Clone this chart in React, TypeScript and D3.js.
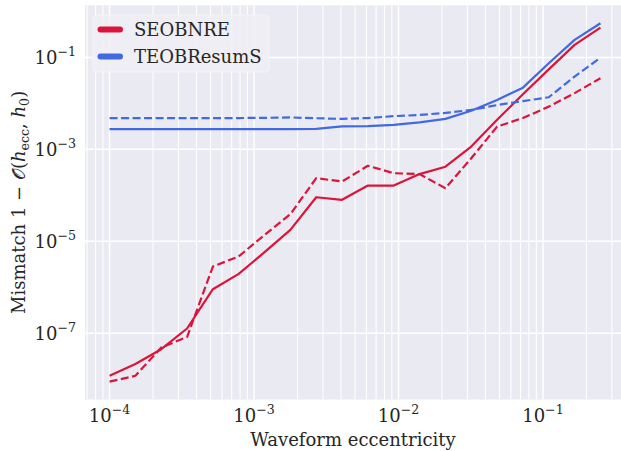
import React from 'react';
import * as d3 from 'd3';

const ecc = [1.0e-4, 1.509e-4, 2.278e-4, 3.439e-4, 5.191e-4, 7.835e-4, 1.183e-3, 1.785e-3, 2.695e-3, 4.068e-3, 6.14e-3, 9.27e-3, 0.01399, 0.02113, 0.03189, 0.04815, 0.07268, 0.1097, 0.1656, 0.25];
const seobSolid = [1.19e-8, 2.14e-8, 4.5e-8, 1.27e-7, 9.1e-7, 1.96e-6, 5.8e-6, 1.78e-5, 9.1e-5, 8.0e-5, 1.63e-4, 1.63e-4, 2.9e-4, 4.2e-4, 1.15e-3, 4.4e-3, 0.0158, 0.055, 0.187, 0.445];
const seobDashed = [8.9e-9, 1.19e-8, 4.9e-8, 8.3e-8, 2.83e-6, 4.7e-6, 1.38e-5, 3.9e-5, 2.36e-4, 2.0e-4, 4.4e-4, 3.03e-4, 2.9e-4, 1.43e-4, 6.4e-4, 3.13e-3, 4.8e-3, 8.5e-3, 0.0167, 0.0353];
const teobSolid = [2.75e-3, 2.75e-3, 2.75e-3, 2.75e-3, 2.75e-3, 2.75e-3, 2.75e-3, 2.76e-3, 2.8e-3, 3.15e-3, 3.2e-3, 3.4e-3, 3.87e-3, 4.6e-3, 6.9e-3, 0.0119, 0.022, 0.0748, 0.24, 0.553];
const teobDashed = [4.77e-3, 4.77e-3, 4.77e-3, 4.77e-3, 4.77e-3, 4.8e-3, 4.85e-3, 4.95e-3, 4.75e-3, 4.6e-3, 4.8e-3, 5.27e-3, 5.6e-3, 6.2e-3, 7.2e-3, 9.2e-3, 0.0112, 0.0136, 0.0383, 0.099];

const seriesNames = ['SEOBNRE', 'TEOBResumS'];
const seriesColors = ['#DC143C', '#4169E1'];
const xTickExps = [-4, -3, -2, -1];
const yTickExps = [-7, -5, -3, -1];

const W = 621, H = 451;
const L = 85, R = 625, T = 5.3, B = 399.5;
const FONT = "'DejaVu Serif', serif";
const TXT = '#262626';
const ts = { fontFamily: FONT };

export default function App() {
  const x = d3.scaleLog().domain([Math.pow(10, -4.17), Math.pow(10, -0.432)]).range([L, R]);
  const y = d3.scaleLog().domain([Math.pow(10, -8.44), Math.pow(10, 0.133)]).range([B, T]);
  const line = (vals: number[]) =>
    d3.line<number>().x((_, i) => x(ecc[i])).y((v) => y(v))(vals) || '';

  const [x0, x1] = x.domain();
  const minorX: number[] = [];
  for (let e = -5; e <= 0; e++) {
    for (let m = 2; m <= 9; m++) {
      const v = m * Math.pow(10, e);
      if (v > x0 && v < x1) minorX.push(v);
    }
  }

  const series = [
    { vals: seobSolid, color: seriesColors[0], dash: null },
    { vals: seobDashed, color: seriesColors[0], dash: '8,3.5' },
    { vals: teobSolid, color: seriesColors[1], dash: null },
    { vals: teobDashed, color: seriesColors[1], dash: '8,3.5' },
  ];

  return (
    <svg width={W} height={H} style={{ position: 'fixed', left: 0, top: 0, background: '#fff', fontFamily: FONT }}>
      <defs>
        <clipPath id="plotclip">
          <rect x={L} y={T} width={R - L} height={B - T} />
        </clipPath>
      </defs>
      <rect x={L} y={T} width={R - L} height={B - T} fill="#EAEAF2" />
      <g clipPath="url(#plotclip)">
        {minorX.map((v, i) => (
          <line key={'mx' + i} x1={x(v)} x2={x(v)} y1={T} y2={B} stroke="#fff" strokeWidth={1.1} />
        ))}
        {xTickExps.map((e) => (
          <line key={'Mx' + e} x1={x(Math.pow(10, e))} x2={x(Math.pow(10, e))} y1={T} y2={B} stroke="#fff" strokeWidth={1.5} />
        ))}
        {yTickExps.map((e) => (
          <line key={'My' + e} x1={L} x2={R} y1={y(Math.pow(10, e))} y2={y(Math.pow(10, e))} stroke="#fff" strokeWidth={1.5} />
        ))}
        {series.map((s, i) => (
          <path key={'s' + i} d={line(s.vals)} fill="none" stroke={s.color} strokeWidth={2.2}
            strokeDasharray={s.dash || undefined} strokeLinejoin="round" />
        ))}
      </g>
      {xTickExps.map((e) => (
        <text key={'xt' + e} style={ts} x={x(Math.pow(10, e))} y={421.5} fontSize={18} fill={TXT} textAnchor="middle">
          10<tspan fontSize={12.6} dy={-7.5}>{'\u2212' + Math.abs(e)}</tspan>
        </text>
      ))}
      {yTickExps.map((e) => (
        <text key={'yt' + e} style={ts} x={76} y={y(Math.pow(10, e)) + 6.5} fontSize={18} fill={TXT} textAnchor="end">
          10<tspan fontSize={12.6} dy={-7.5}>{'\u2212' + Math.abs(e)}</tspan>
        </text>
      ))}
      <text style={ts} x={(L + R) / 2 - 2} y={446} fontSize={18} fill={TXT} textAnchor="middle">Waveform eccentricity</text>
      <text style={ts} transform={`translate(25,${(T + B) / 2}) rotate(-90)`} fontSize={18} fill={TXT} textAnchor="middle">
        Mismatch 1 {'\u2212'} <tspan>{'\uD835\uDCAA'}</tspan>(<tspan fontStyle="italic">h</tspan>
        <tspan fontSize={12.6} dy={4}>ecc</tspan><tspan dy={-4}>, </tspan>
        <tspan fontStyle="italic">h</tspan><tspan fontSize={12.6} dy={4}>0</tspan><tspan dy={-4}>)</tspan>
      </text>
      <rect x={93} y={15} width={176} height={57} rx={3} fill="#EEEEF4" fillOpacity={0.9} stroke="#F4F4F8" strokeWidth={1} />
      {seriesNames.map((n, i) => (
        <g key={'lg' + i}>
          <line x1={100.5} x2={120} y1={29.5 + i * 27} y2={29.5 + i * 27} stroke={seriesColors[i]} strokeWidth={6} strokeLinecap="round" />
          <text style={ts} x={134} y={36 + i * 26.7} fontSize={18} fill={TXT}>{n}</text>
        </g>
      ))}
    </svg>
  );
}
